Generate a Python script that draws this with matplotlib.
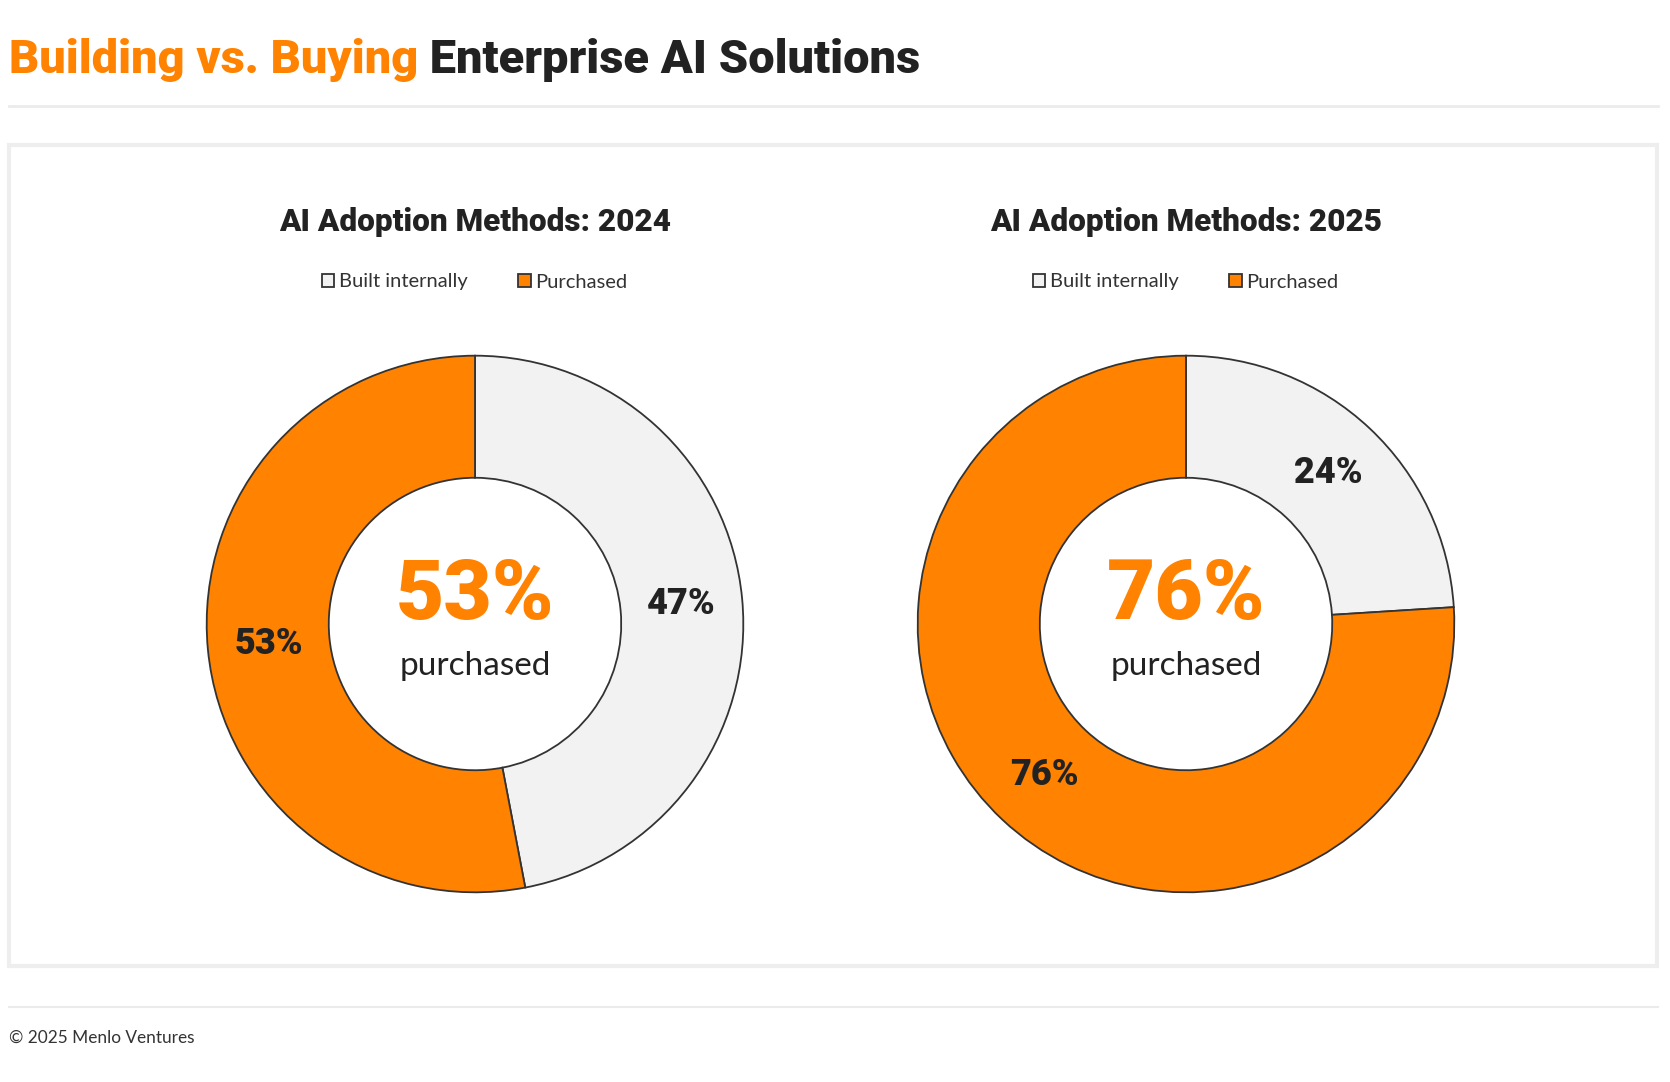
import matplotlib.pyplot as plt
from matplotlib.patches import Rectangle

# data
years = ["2024", "2025"]
categories = ["Built internally", "Purchased"]
built = [47, 24]
purchased = [53, 76]

ORANGE = "#FF8200"
GREY = "#F2F2F2"
DARK = "#222222"
EDGE = "#333333"

plt.rcParams['font.family'] = ['Lato', 'DejaVu Sans']
HEAVY = ['Roboto', 'DejaVu Sans']

W, H = 1670, 1082
fig = plt.figure(figsize=(W / 100, H / 100), dpi=100)

# background axes in pixel coordinates
bg = fig.add_axes([0, 0, 1, 1])
bg.set_xlim(0, W)
bg.set_ylim(H, 0)
bg.axis('off')

# main title in two colours
t1 = bg.text(9, 60, "Building vs. Buying", color=ORANGE, fontsize=33.8,
             fontweight='black', family=HEAVY, va='center', ha='left')
bg.annotate(" Enterprise AI Solutions", xy=(1, 0.5), xycoords=t1,
            va='center', ha='left', color=DARK, fontsize=33.8,
            fontweight='black', family=HEAVY)

# rules and panel
bg.plot([9, 1658], [106, 106], color="#EBEBEB", lw=2)
bg.add_patch(Rectangle((9, 145), 1648, 821, fill=False, ec="#EEEEEE", lw=3))
bg.plot([9, 1658], [1007, 1007], color="#EBEBEB", lw=1.5)
bg.text(9, 1038, "\u00a9 2025 Menlo Ventures", color="#333333", fontsize=12.4,
        va='center', ha='left')

centers = [475, 1186]
cy = 624
R = 271

for i in range(len(years)):
    cx = centers[i]
    ax = fig.add_axes([(cx - R) / W, 1 - (cy + R) / H, 2 * R / W, 2 * R / H])
    vals = [built[i], purchased[i]]
    wedges, texts, autotexts = ax.pie(
        vals, colors=[GREY, ORANGE], startangle=90, counterclock=False,
        radius=1, autopct=lambda p: f"{round(p)}%", pctdistance=0.773,
        wedgeprops=dict(width=0.455, edgecolor=EDGE, linewidth=1.3),
        textprops=dict(fontsize=26, fontweight='black', color=DARK,
                       family=HEAVY))
    ax.set_xlim(-1.01, 1.01)
    ax.set_ylim(-1.01, 1.01)
    ax.set_aspect('equal')

    ax.text(0, 0.103, f"{purchased[i]}%", ha='center', va='center',
            fontsize=60, fontweight='black', color=ORANGE, family=HEAVY)
    ax.text(0, -0.157, "purchased", ha='center', va='center',
            fontsize=24, color=DARK)

    bg.text(cx, 222, f"AI Adoption Methods: {years[i]}", ha='center',
            va='center', fontsize=22.7, fontweight='black', color=DARK,
            family=HEAVY)

    fig.legend(wedges, categories, loc='center',
               bbox_to_anchor=(cx / W, 1 - 282 / H), ncol=2, frameon=False,
               fontsize=14.5, handlelength=0.6, handleheight=0.6,
               handletextpad=0.25, columnspacing=2.5, labelcolor="#333333")

fig.savefig("out.png", dpi=100, facecolor='white')
